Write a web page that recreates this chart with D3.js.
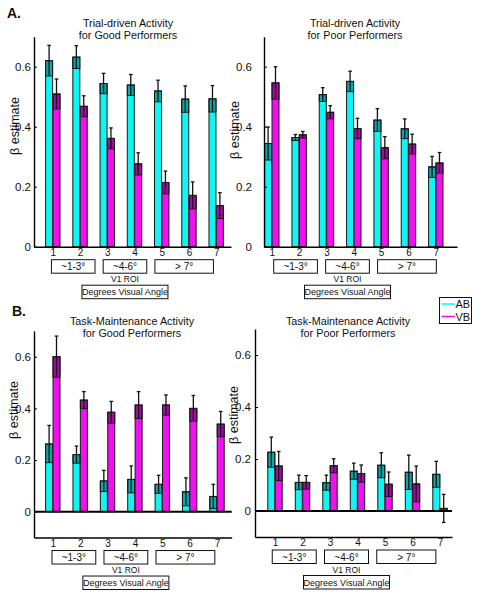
<!DOCTYPE html>
<html><head><meta charset="utf-8">
<script src="https://cdn.jsdelivr.net/npm/d3@7"></script>
<style>
body{margin:0;background:#fff;}
svg{display:block;font-family:"Liberation Sans",Arial,sans-serif;}
</style>
</head><body>
<svg id="chart" width="485" height="599"></svg>
<script>
// ---------------- data ----------------
const rois = [1, 2, 3, 4, 5, 6, 7];
const roiGroups = [[1, 2], [3, 4], [5, 6, 7]];
const rangeLabels = ["~1-3°", "~4-6°", "> 7°"];
const seriesNames = ["AB", "VB"];
const yTicks = [0, 0.2, 0.4, 0.6];

const trialGoodAB    = [0.620, 0.632, 0.544, 0.539, 0.519, 0.492, 0.493];
const trialGoodABErr = [0.051, 0.038, 0.034, 0.035, 0.036, 0.044, 0.044];
const trialGoodVB    = [0.509, 0.468, 0.361, 0.276, 0.214, 0.171, 0.137];
const trialGoodVBErr = [0.050, 0.035, 0.035, 0.037, 0.038, 0.045, 0.043];

const trialPoorAB    = [0.344, 0.364, 0.507, 0.551, 0.422, 0.393, 0.266];
const trialPoorABErr = [0.055, 0.010, 0.023, 0.034, 0.038, 0.033, 0.035];
const trialPoorVB    = [0.546, 0.373, 0.448, 0.394, 0.330, 0.342, 0.279];
const trialPoorVBErr = [0.054, 0.011, 0.022, 0.034, 0.037, 0.033, 0.035];

const taskGoodAB     = [0.262, 0.221, 0.119, 0.125, 0.106, 0.077, 0.059];
const taskGoodABErr  = [0.072, 0.033, 0.041, 0.052, 0.035, 0.054, 0.047];
const taskGoodVB     = [0.600, 0.432, 0.385, 0.413, 0.413, 0.400, 0.339];
const taskGoodVBErr  = [0.080, 0.033, 0.042, 0.052, 0.039, 0.050, 0.049];

const taskPoorAB     = [0.226, 0.110, 0.109, 0.153, 0.176, 0.149, 0.141];
const taskPoorABErr  = [0.058, 0.028, 0.029, 0.031, 0.048, 0.066, 0.050];
const taskPoorVB     = [0.173, 0.110, 0.174, 0.144, 0.103, 0.104, 0.010];
const taskPoorVBErr  = [0.056, 0.026, 0.027, 0.033, 0.047, 0.069, 0.054];

// ---------------- layout ----------------
const colors = {AB: "#10f4f4", VB: "#f010f0"};
const panels = [
  {letter: "A.", letterX: 7, letterY: 18, title: ["Trial-driven Activity", "for Good Performers"], titleX: 128, titleY: 27,
   ab: trialGoodAB, abErr: trialGoodABErr, vb: trialGoodVB, vbErr: trialGoodVBErr,
   x0: 34, x1: 231, c1: 52.8, step: 27.23, zeroY: 246.7, unit: 300, yMin: 0, yMax: 0.7,
   tickPad: 3, ylabX: 15, ylabY: 126, boxShift: 0, zeroLine: false},
  {letter: null, title: ["Trial-driven Activity", "for Poor Performers"], titleX: 355, titleY: 27,
   ab: trialPoorAB, abErr: trialPoorABErr, vb: trialPoorVB, vbErr: trialPoorVBErr,
   x0: 264, x1: 457, c1: 271.8, step: 27.33, zeroY: 246.7, unit: 300, yMin: 0, yMax: 0.7,
   tickPad: 12, ylabX: 235, ylabY: 130, boxShift: 0.12, zeroLine: false},
  {letter: "B.", letterX: 12, letterY: 316, title: ["Task-Maintenance Activity", "for Good Performers"], titleX: 132, titleY: 325,
   ab: taskGoodAB, abErr: taskGoodABErr, vb: taskGoodVB, vbErr: taskGoodVBErr,
   x0: 34, x1: 231.7, c1: 52.8, step: 27.37, zeroY: 511.7, unit: 258.3, yMin: -0.1, yMax: 0.7,
   tickPad: 3, ylabX: 14, ylabY: 410, boxShift: 0.02, zeroLine: true},
  {letter: null, title: ["Task-Maintenance Activity", "for Poor Performers"], titleX: 348, titleY: 325,
   ab: taskPoorAB, abErr: taskPoorABErr, vb: taskPoorVB, vbErr: taskPoorVBErr,
   x0: 255, x1: 452, c1: 275, step: 27.5, zeroY: 511, unit: 260, yMin: -0.1, yMax: 0.7,
   tickPad: 4, ylabX: 234, ylabY: 415, boxShift: -0.05, zeroLine: true}
];
const boxPad = [[-0.05, 0.55], [-0.15, 0.45], [-0.25, -0.1]];

const svg = d3.select("#chart");

panels.forEach(p => {
  const g = svg.append("g");
  const x = d3.scaleLinear()
    .domain([(p.x0 - p.c1) / p.step + 1, (p.x1 - p.c1) / p.step + 1])
    .range([p.x0, p.x1]);
  const y = d3.scaleLinear()
    .domain([p.yMin, p.yMax])
    .range([p.zeroY - p.yMin * p.unit, p.zeroY - p.yMax * p.unit]);

  const bw = 7 / p.step, gap = 0.2 / p.step;
  const series = [
    {name: "AB", vals: p.ab, errs: p.abErr, off: -gap - bw},
    {name: "VB", vals: p.vb, errs: p.vbErr, off: gap}
  ];

  series.forEach(s => {
    const sg = g.append("g");
    rois.forEach((r, i) => {
      const v = s.vals[i], e = s.errs[i];
      const xl = x(r + s.off), xr = x(r + s.off + bw), xc = (xl + xr) / 2;
      const top = y(Math.max(v, 0)), bot = y(Math.min(v, 0));
      sg.append("rect").attr("x", xl).attr("y", top).attr("width", xr - xl).attr("height", bot - top)
        .attr("fill", colors[s.name]).attr("stroke", "#1a1a1a").attr("stroke-width", 1);
      const lo = Math.max(v - e, 0);
      // darkened error region inside bar
      if (v > lo) {
        sg.append("rect").attr("x", xl).attr("y", y(v)).attr("width", xr - xl).attr("height", y(lo) - y(v))
          .attr("fill", "#000").attr("fill-opacity", 0.3).attr("stroke", "#1a1a1a").attr("stroke-width", 1);
      }
      sg.append("line").attr("x1", xc).attr("x2", xc).attr("y1", y(v - e)).attr("y2", y(v + e))
        .attr("stroke", "#111").attr("stroke-width", 1.3);
      sg.append("line").attr("x1", xc - 1.8).attr("x2", xc + 1.8).attr("y1", y(v + e)).attr("y2", y(v + e))
        .attr("stroke", "#111").attr("stroke-width", 1.3);
      if (v - e < 0 && p.zeroLine) {
        sg.append("line").attr("x1", xc - 1.8).attr("x2", xc + 1.8).attr("y1", y(v - e)).attr("y2", y(v - e))
          .attr("stroke", "#111").attr("stroke-width", 1.3);
      }
    });
  });

  if (p.zeroLine) {
    g.append("line").attr("x1", p.x0).attr("x2", p.x1).attr("y1", y(0)).attr("y2", y(0))
      .attr("stroke", "#000").attr("stroke-width", 2);
  }

  // axes
  const ya = g.append("g").attr("transform", `translate(${p.x0},0)`)
    .call(d3.axisLeft(y).tickValues(yTicks).tickSize(-3).tickSizeOuter(0).tickPadding(p.tickPad)
      .tickFormat(d => d === 0 ? "0" : d3.format(".1f")(d)));
  ya.select(".domain").attr("stroke-width", 1.4);
  ya.selectAll("text").attr("font-size", 11.5).attr("fill", "#111");

  const xa = g.append("g").attr("transform", `translate(0,${y(p.yMin)})`)
    .call(d3.axisBottom(x).tickValues(rois).tickSize(0).tickSizeOuter(0).tickPadding(2).tickFormat(d3.format("d")));
  xa.select(".domain").attr("stroke-width", 1.4);
  xa.selectAll("text").attr("font-size", 10).attr("fill", "#111");

  // y label
  g.append("text").attr("transform", `translate(${p.ylabX},${p.ylabY}) rotate(-90)`)
    .attr("text-anchor", "middle").attr("dominant-baseline", "central")
    .attr("font-size", 12.5).attr("fill", "#111").text("β estimate");

  // title
  p.title.forEach((t, k) => {
    g.append("text").attr("x", p.titleX).attr("y", p.titleY + k * 12)
      .attr("text-anchor", "middle").attr("font-size", 10.8).attr("fill", "#111").text(t);
  });
  if (p.letter) {
    g.append("text").attr("x", p.letterX).attr("y", p.letterY).attr("font-weight", "bold")
      .attr("font-size", 14).attr("fill", "#111").text(p.letter);
  }

  // range boxes
  const base = y(p.yMin);
  roiGroups.forEach((grp, k) => {
    const a = x(grp[0] + boxPad[k][0] + p.boxShift), b = x(grp[grp.length - 1] + boxPad[k][1] + p.boxShift);
    g.append("rect").attr("x", a).attr("y", base + 13).attr("width", b - a).attr("height", 13.5)
      .attr("fill", "none").attr("stroke", "#111").attr("stroke-width", 1);
    g.append("text").attr("x", (a + b) / 2).attr("y", base + 20).attr("dominant-baseline", "central")
      .attr("text-anchor", "middle").attr("font-size", 10).attr("fill", "#111").text(rangeLabels[k]);
  });
  const cx = x(3.65 + p.boxShift);
  g.append("text").attr("x", cx).attr("y", base + 35.5).attr("text-anchor", "middle")
    .attr("font-size", 8.5).attr("fill", "#111").text("V1 ROI");
  g.append("rect").attr("x", cx - 43).attr("y", base + 38.5).attr("width", 86).attr("height", 13.5)
    .attr("fill", "none").attr("stroke", "#111").attr("stroke-width", 1);
  g.append("text").attr("x", cx).attr("y", base + 45.5).attr("dominant-baseline", "central")
    .attr("text-anchor", "middle").attr("font-size", 9).attr("fill", "#111").text("Degrees Visual Angle");
});

// legend
const lg = svg.append("g").attr("transform", "translate(439.5,297.5)");
lg.append("rect").attr("width", 32).attr("height", 26).attr("fill", "#fff").attr("stroke", "#111").attr("stroke-width", 1);
seriesNames.forEach((n, i) => {
  const yy = 6.5 + i * 12.5;
  lg.append("line").attr("x1", 2).attr("x2", 15.5).attr("y1", yy).attr("y2", yy)
    .attr("stroke", colors[n]).attr("stroke-width", 1.5);
  lg.append("text").attr("x", 16).attr("y", yy).attr("dominant-baseline", "central")
    .attr("font-size", 11).attr("fill", "#111").text(n);
});
</script>
</body></html>
